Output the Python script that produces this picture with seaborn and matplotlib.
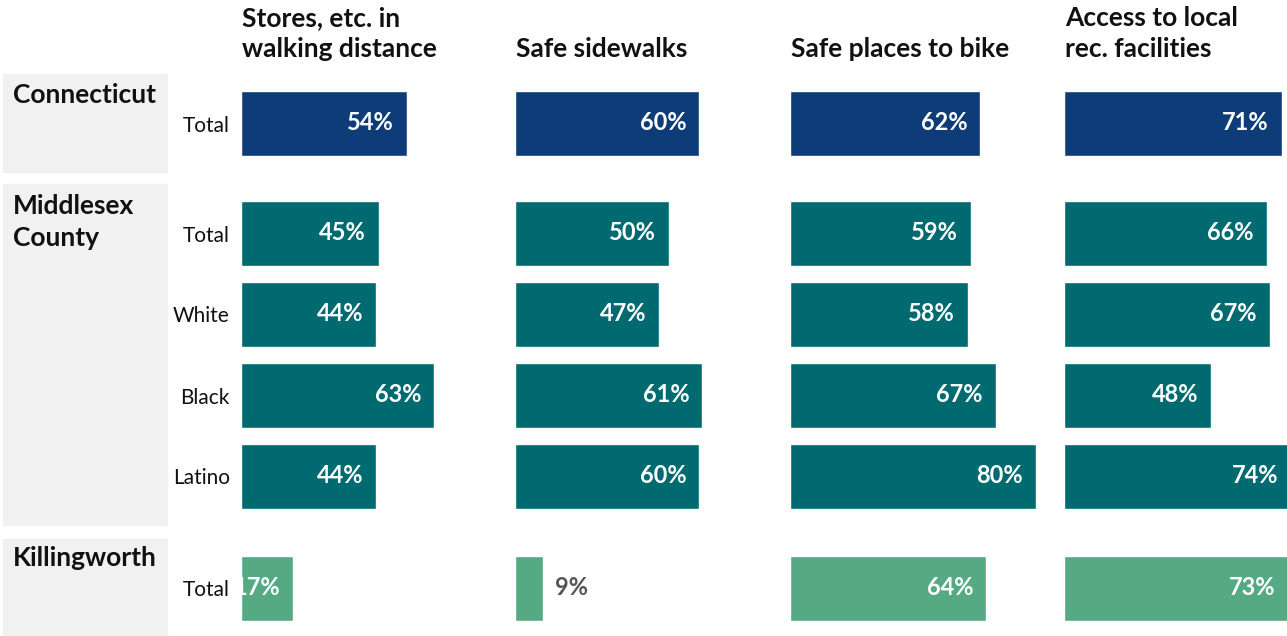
import matplotlib
matplotlib.use("Agg")
import matplotlib.pyplot as plt
import seaborn as sns
import pandas as pd
from matplotlib.patches import Rectangle

# Chart data
measures = ["Stores, etc. in\nwalking distance", "Safe sidewalks",
            "Safe places to bike", "Access to local\nrec. facilities"]
groups = ["Connecticut", "Middlesex\nCounty", "Killingworth"]
group_rows = [["Total"], ["Total", "White", "Black", "Latino"], ["Total"]]

ct_total = [54, 60, 62, 71]
ms_total = [45, 50, 59, 66]
ms_white = [44, 47, 58, 67]
ms_black = [63, 61, 67, 48]
ms_latino = [44, 60, 80, 74]
kw_total = [17, 9, 64, 73]

group_values = [[ct_total], [ms_total, ms_white, ms_black, ms_latino], [kw_total]]
group_colors = ["#0e3c78", "#006a71", "#55aa84"]

records = []
for g, rows, vals in zip(groups, group_rows, group_values):
    for r, series in zip(rows, vals):
        for m, v in zip(measures, series):
            records.append({"group": g, "row": r, "measure": m, "value": v})
df = pd.DataFrame(records)

sns.set_style("white")
plt.rcParams["font.family"] = ["Lato", "DejaVu Sans"]

W, H = 1287, 636
fig = plt.figure(figsize=(W / 100, H / 100), dpi=100)

# layout in pixels
col_left = [242, 516, 791, 1065]
col_w = 274
px_per_pct = 3.07
group_top = [83, 193, 548]
row_px = 81
box_spans = [(74, 172), (184, 525), (539, 640)]
label_top = [103, 214, 566]   # baseline of the first line


def fx(px):
    return px / W


def fy(px):
    return 1 - px / H


# grey group boxes
for top, bot in box_spans:
    fig.patches.append(Rectangle((fx(3), fy(bot)), fx(164), (bot - top) / H,
                                 transform=fig.transFigure, color="#f1f1f1", zorder=0))

for gi, (g, rows) in enumerate(zip(groups, group_rows)):
    n = len(rows)
    top = group_top[gi]
    for ci, m in enumerate(measures):
        sub = df[(df.group == g) & (df.measure == m)]
        ax = fig.add_axes([fx(col_left[ci] - 1), fy(top + n * row_px), fx(col_w), n * row_px / H])
        ax.patch.set_alpha(0)
        sns.barplot(data=sub, x="value", y="row", order=rows, color=group_colors[gi],
                    saturation=1, width=0.8, ax=ax)
        ax.set_xlim(0, col_w / px_per_pct)
        ax.set_ylim(n - 0.5, -0.5)
        sns.despine(ax=ax, left=True, bottom=True)
        ax.set_xticks([])
        ax.set_xlabel("")
        ax.set_ylabel("")
        if ci == 0:
            ax.tick_params(axis="y", length=0, pad=8, labelsize=15, labelcolor="#111111")
        else:
            ax.set_yticks([])
        for i, v in enumerate(sub.set_index("row").loc[rows, "value"]):
            if v < 12:
                ax.annotate(f"{v}%", (v, i), xytext=(12, 1), textcoords="offset pixels",
                            ha="left", va="center", color="#555555",
                            fontsize=17, fontweight="bold")
            else:
                ax.annotate(f"{v}%", (v, i), xytext=(-13, 1), textcoords="offset pixels",
                            ha="right", va="center", color="white",
                            fontsize=17, fontweight="bold")

# column headers (one text per line)
line_gap = 31
for ci, m in enumerate(measures):
    lines = m.split("\n")
    for li, line in enumerate(lines):
        base = 57 - (len(lines) - 1 - li) * line_gap
        fig.text(fx(col_left[ci]), fy(base), line, ha="left", va="baseline",
                 fontsize=19, fontweight="bold", color="#111111")

# group labels
for gi, g in enumerate(groups):
    for li, line in enumerate(g.split("\n")):
        fig.text(fx(13), fy(label_top[gi] + li * 32), line, ha="left", va="baseline",
                 fontsize=19, fontweight="bold", color="#111111")

fig.savefig("out.png", dpi=100)
